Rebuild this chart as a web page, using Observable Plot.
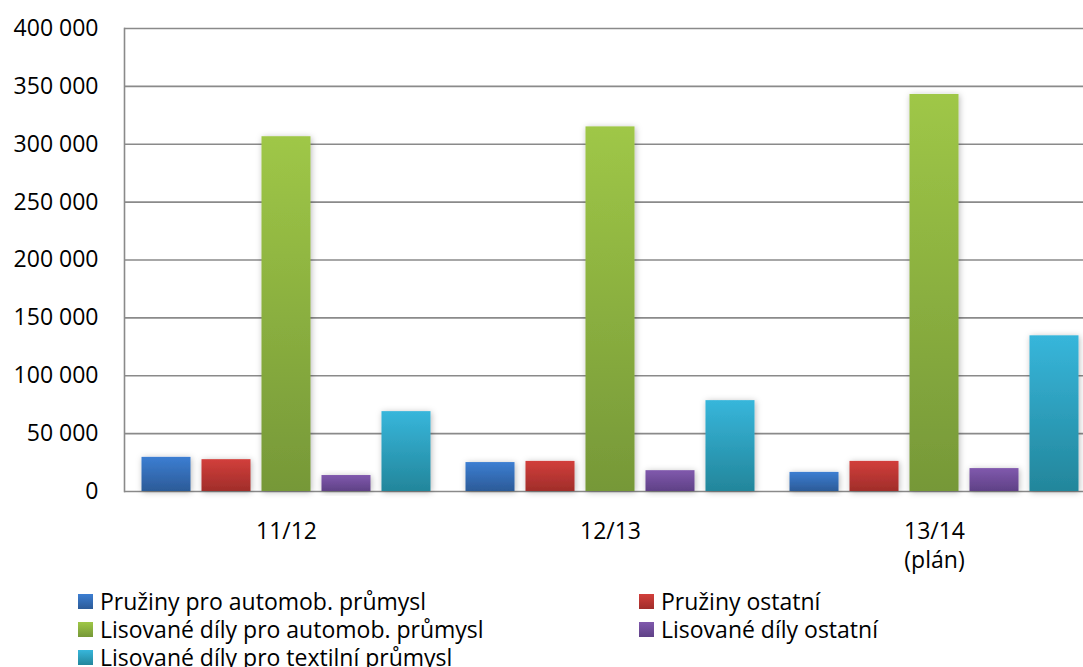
<!DOCTYPE html>
<html>
<head>
<meta charset="utf-8">
<script src="https://cdn.jsdelivr.net/npm/d3@7"></script>
<script src="https://cdn.jsdelivr.net/npm/@observablehq/plot@0.6"></script>
<style>
  html, body { margin: 0; padding: 0; background: #fff; overflow: hidden; }
  #legend { display: grid; grid-template-columns: 561px 420px; margin-left: 78px; padding-top: 7px;
            font-family: "Open Sans", sans-serif; font-size: 23px; line-height: 28px; color: #000; }
  .item { display: flex; align-items: center; white-space: nowrap; }
  .sw { width: 15px; height: 15px; margin-right: 7px; flex: none; }
</style>
</head>
<body>
<div id="chart"></div>
<div id="legend"></div>
<script>
const periods = ["11/12", "12/13", "13/14\n(plán)"];
const series = [
  "Pružiny pro automob. průmysl",
  "Pružiny ostatní",
  "Lisované díly pro automob. průmysl",
  "Lisované díly ostatní",
  "Lisované díly pro textilní průmysl"
];
const springsAuto = [29500, 25000, 16500];
const springsOther = [27500, 26000, 26000];
const pressedAuto = [306500, 315000, 343000];
const pressedOther = [13800, 18000, 19800];
const pressedTextile = [69000, 78500, 134500];
const yTicks = [0, 50000, 100000, 150000, 200000, 250000, 300000, 350000, 400000];

const gradTop = ["#3c7ed2", "#d23f3b", "#9fc747", "#8059ad", "#37b6db"];
const gradBottom = ["#2c5b98", "#a02d2a", "#769838", "#5f4186", "#23869b"];

const valuesBySeries = [springsAuto, springsOther, pressedAuto, pressedOther, pressedTextile];
const data = [];
periods.forEach((p, i) => series.forEach((s, j) => data.push({period: p, series: s, value: valuesBySeries[j][i]})));

const fmt = d3.formatLocale({thousands: " ", grouping: [3], decimal: ","}).format(",");

const chart = Plot.plot({
  width: 1083,
  height: 580,
  marginLeft: 124,
  marginRight: -13,
  marginTop: 28,
  marginBottom: 89,
  style: {fontFamily: "Open Sans", fontSize: "23px", color: "#000", background: "#fff"},
  fx: {domain: periods, padding: 0, round: false},
  x: {domain: series, paddingInner: 0.183, paddingOuter: 0.2917, round: false, axis: null},
  y: {domain: [0, 400000]},
  color: {type: "ordinal", domain: series, range: series.map((_, i) => `url(#grad${i})`)},
  marks: [
    Plot.ruleY(yTicks, {stroke: "#8a8a8a", strokeWidth: 1.6}),
    Plot.frame({anchor: "left", facetAnchor: "left", stroke: "#8a8a8a", strokeWidth: 1.6}),
    Plot.barY(data, {fx: "period", x: "series", y: "value", fill: "series"}),
    Plot.axisY({ticks: yTicks, tickSize: 0, tickPadding: 26, tickFormat: fmt, fontSize: 23, label: null}),
    Plot.axisFx({anchor: "bottom", tickSize: 0, tickPadding: 27, fontSize: 23, lineHeight: 1.26, label: null})
  ]
});

const svg = d3.select(chart);
const defs = svg.insert("defs", ":first-child");
gradTop.forEach((c, i) => {
  const g = defs.append("linearGradient").attr("id", `grad${i}`).attr("x1", 0).attr("y1", 0).attr("x2", 0).attr("y2", 1);
  g.append("stop").attr("offset", "0%").attr("stop-color", c);
  g.append("stop").attr("offset", "100%").attr("stop-color", gradBottom[i]);
});
const f = defs.append("filter").attr("id", "shadow").attr("x", "-30%").attr("y", "-30%").attr("width", "160%").attr("height", "160%");
f.append("feDropShadow").attr("dx", 1).attr("dy", 1).attr("stdDeviation", 3).attr("flood-color", "#000").attr("flood-opacity", 0.28);
svg.selectAll('g[aria-label="bar"] rect').attr("filter", "url(#shadow)");

document.getElementById("chart").appendChild(chart);

const legend = document.getElementById("legend");
series.forEach((s, i) => {
  const item = document.createElement("div");
  item.className = "item";
  const sw = document.createElement("span");
  sw.className = "sw";
  sw.style.background = `linear-gradient(${gradTop[i]}, ${gradBottom[i]})`;
  const t = document.createElement("span");
  t.textContent = s;
  item.appendChild(sw);
  item.appendChild(t);
  legend.appendChild(item);
});
</script>
</body>
</html>
